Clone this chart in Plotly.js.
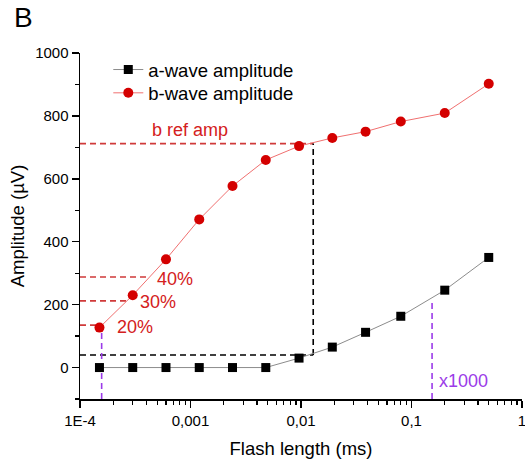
<!DOCTYPE html>
<html>
<head>
<meta charset="utf-8">
<script src="https://cdn.plot.ly/plotly-3.0.1.min.js"></script>
<style>html,body{margin:0;padding:0;background:#fff;}#chart{width:525px;height:459px;}</style>
</head>
<body>
<div id="chart"></div>
<script>
// Flash length (ms)
const flashLength = [0.00015, 0.0003, 0.0006, 0.0012, 0.0024, 0.0048, 0.0096, 0.0192, 0.0384, 0.08, 0.2, 0.5];
// a-wave amplitude (µV)
const aWave = [0, 0, 0, 0, 0, 0, 30, 65, 112, 163, 246, 350];
// b-wave amplitude (µV)
const bWave = [127, 230, 344, 471, 577, 660, 704, 730, 750, 782, 809, 902];

const seriesNames = ["a-wave amplitude", "b-wave amplitude"];
const xTickVals = [1e-4, 1e-3, 1e-2, 1e-1, 1];
const xTickText = ["1E-4", "0,001", "0,01", "0,1", "1"];

// reference levels
const bRefAmp = 712;         // µV
const aRefAmp = 40;          // µV
const refFlash = 0.0129;     // ms
const pctLabels = ["40%", "30%", "20%"];
const pctLevels = [288, 212, 135];
const pctEnds = [4.15e-4, 2.83e-4, 1.415e-4];
const thresholdFlash = [1.57e-4, 0.1535];
const thresholdTop = [114, 218];
const xMin = 1e-4;
const yMin = -100;

const font = "Arial, 'Liberation Sans', sans-serif";
const redDash = "#d03a3a";
const purple = "#9b3be8";

const minorVals = [];
for (let d = -4; d < 0; d++) for (let k = 2; k <= 9; k++) minorVals.push(k * Math.pow(10, d));

const traces = [
  {x: flashLength, y: aWave, name: seriesNames[0], type: "scatter", mode: "lines+markers", legend: "legend",
   line: {color: "#8c8c8c", width: 1}, marker: {symbol: "square", size: 9, color: "#000"}},
  {x: flashLength, y: bWave, name: seriesNames[1], type: "scatter", mode: "lines+markers", legend: "legend2",
   line: {color: "#f07070", width: 1}, marker: {symbol: "circle", size: 10, color: "#d40000"}}
];

const dash = (x0, y0, x1, y1, color) => ({type: "line", xref: "x", yref: "y", x0, y0, x1, y1,
  line: {color, width: 1.6, dash: "6px,4px"}, layer: "below"});

const shapes = [
  dash(xMin, bRefAmp, refFlash, bRefAmp, redDash),
  dash(xMin, aRefAmp, refFlash, aRefAmp, "#000"),
  dash(refFlash, aRefAmp, refFlash, bRefAmp, "#000")
];
pctLevels.forEach((v, i) => shapes.push(dash(xMin, v, pctEnds[i], v, redDash)));
thresholdFlash.forEach((f, i) => shapes.push(dash(f, yMin, f, thresholdTop[i], purple)));

const ann = (x, y, text, color, size) => ({x, y, xref: "x", yref: "y", text, showarrow: false,
  font: {family: font, size, color}});
const annotations = [
  ann(-3.005, 754, "b ref amp", "#d42020", 18),
  ann(-3.14, 281, pctLabels[0], "#d42020", 18),
  ann(-3.291, 209, pctLabels[1], "#d42020", 18),
  ann(-3.5, 130, pctLabels[2], "#d42020", 18),
  ann(-0.529, -44, "x1000", purple, 18),
  {x: -0.154, y: 1.152, xref: "paper", yref: "paper", xanchor: "left", yanchor: "top", text: "B",
   showarrow: false, font: {family: font, size: 28, color: "#000"}}
];

const legendBase = {xanchor: "left", yanchor: "middle", bgcolor: "rgba(0,0,0,0)",
  font: {family: font, size: 18.5}};

const layout = {
  width: 525, height: 459,
  margin: {l: 80, r: 3, t: 53, b: 60},
  paper_bgcolor: "#fff", plot_bgcolor: "#fff",
  font: {family: font, color: "#000"},
  showlegend: true,
  legend: Object.assign({x: 0.064, y: (399 - 70) / 346}, legendBase),
  legend2: Object.assign({x: 0.064, y: (399 - 93.3) / 346}, legendBase),
  xaxis: {type: "log", range: [-4, 0], tickmode: "array", tickvals: xTickVals, ticktext: xTickText,
          showgrid: false, zeroline: false, showline: true, linecolor: "#000", linewidth: 1.5,
          ticks: "outside", ticklen: 7, tickwidth: 1.5, tickcolor: "#000",
          tickfont: {family: font, size: 15}, ticklabeloverflow: "allow",
          minor: {ticks: "outside", ticklen: 4, tickwidth: 1.2, tickcolor: "#000", tickmode: "array", tickvals: minorVals, showgrid: false},
          title: {text: "Flash length (ms)", font: {family: font, size: 18.5}, standoff: 15}},
  yaxis: {range: [-100, 1000], tickmode: "linear", tick0: 0, dtick: 200,
          showgrid: false, zeroline: false, showline: true, linecolor: "#000", linewidth: 1.5,
          ticks: "outside", ticklen: 7, tickwidth: 1.5, tickcolor: "#000",
          tickfont: {family: font, size: 15},
          minor: {ticks: "outside", ticklen: 4, tickwidth: 1.2, tickcolor: "#000", dtick: 100, tick0: 0, showgrid: false},
          title: {text: "Amplitude (µV)", font: {family: font, size: 18.5}, standoff: 5}},
  shapes, annotations
};

Plotly.newPlot("chart", traces, layout, {displayModeBar: false, staticPlot: true});
</script>
</body>
</html>
